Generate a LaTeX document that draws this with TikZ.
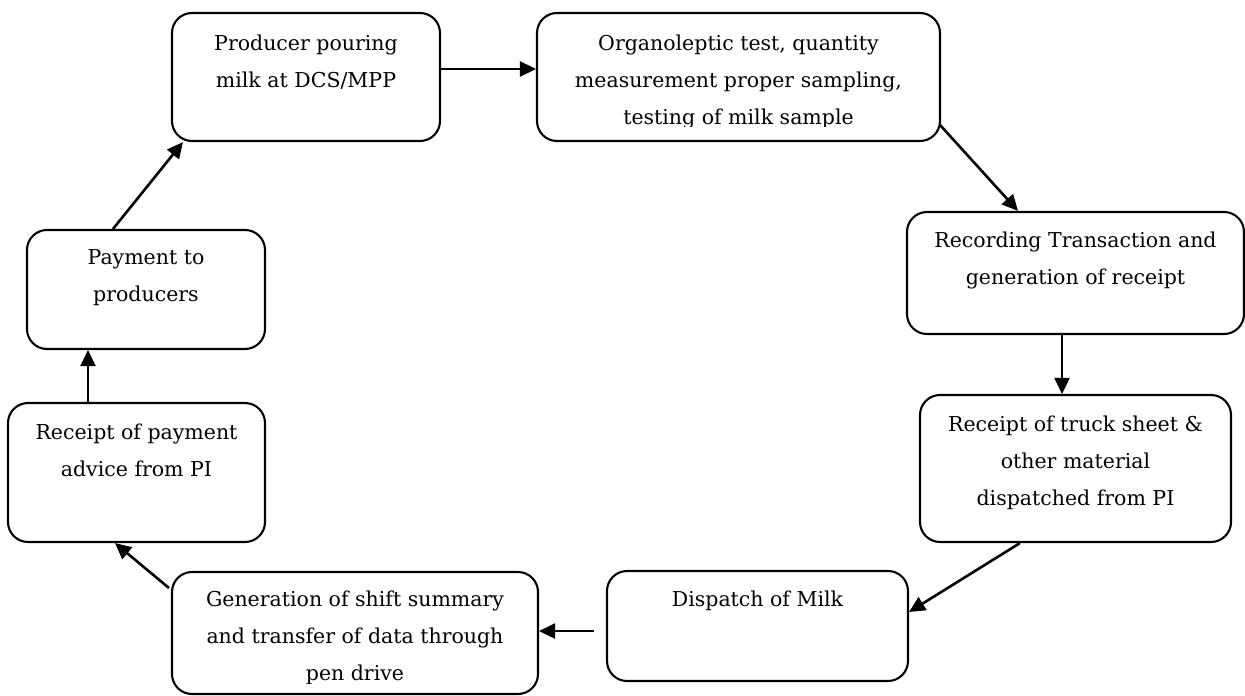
\documentclass[tikz,border=0pt]{standalone}
\usepackage{fontspec}
\setmainfont{DejaVu Serif}
\usetikzlibrary{calc,arrows.meta}
\begin{document}
\begin{tikzpicture}[x=1pt,y=-1pt,
  box/.style={draw,line width=2.1pt,rounded corners=20pt,inner sep=0pt,minimum width=#1},
  label/.style={anchor=north,inner sep=0pt,align=center,font=\fontsize{20.5}{37}\selectfont},
  flow/.style={line width=2.6pt,-{Triangle[length=16pt,width=15pt]}}]
\useasboundingbox (0,0) rectangle (1245,696);
% boxes
\node[box=268pt,minimum height=128pt] (b1) at (306,77) {};
\node[box=403pt,minimum height=128pt] (b2) at (738.5,77) {};
\node[box=337pt,minimum height=122pt] (b3) at (1075.5,273) {};
\node[box=311pt,minimum height=147pt] (b4) at (1075.5,468.5) {};
\node[box=301pt,minimum height=110pt] (b5) at (757.5,626) {};
\node[box=366pt,minimum height=122pt] (b6) at (355,633) {};
\node[box=257pt,minimum height=139pt] (b7) at (136.5,472.5) {};
\node[box=238pt,minimum height=119pt] (b8) at (146,289.5) {};
% texts
\node[label] (t1) at ($(b1.north)+(0,23)$) {Producer pouring\\milk at DCS/MPP};
\begin{scope}
\clip (0,0) rectangle (1245,126);
\node[label] (t2) at ($(b2.north)+(0,23)$) {Organoleptic test, quantity\\measurement proper sampling,\\testing of milk sample};
\end{scope}
\node[label] (t3) at ($(b3.north)+(0,21)$) {Recording Transaction and\\generation of receipt};
\node[label] (t4) at ($(b4.north)+(0,22)$) {Receipt of truck sheet \&\\other material\\dispatched from PI};
\node[label] (t5) at ($(b5.north)+(0,21)$) {Dispatch of Milk};
\begin{scope}
\clip (0,0) rectangle (1245,683);
\node[label] (t6) at ($(b6.north)+(0,20)$) {Generation of shift summary\\and transfer of data through\\pen drive};
\end{scope}
\node[label] (t7) at ($(b7.north)+(0,22)$) {Receipt of payment\\advice from PI};
\node[label] (t8) at ($(b8.north)+(0,20)$) {Payment to\\producers};
% connectors
\coordinate (s5) at ($(b5.west)+(-12,5)$);
\draw[flow] ($(b1.east)+(0,-8)$) -- ($(b2.west)+(0,-8)$);
\draw[flow] ($(b2.east)+(-1,48)$) -- ($(b3.north)+(-57.5,0)$);
\draw[flow] ($(b3.south)+(-13.5,0)$) -- ($(b4.north)+(-13.5,0)$);
\draw[flow] ($(b4.south)+(-55.5,0)$) -- ($(b5.east)+(0,-14)$);
\draw[flow] (s5) -- ($(b6.east)+(0,-2)$);
\draw[flow] ($(b6.west)+(-2,-45)$) -- ($(b7.south)+(-21.5,0)$);
\draw[flow] ($(b7.north)+(-48.5,0)$) -- ($(b8.south)+(-58,0)$);
\draw[flow] ($(b8.north)+(-33,0)$) -- ($(b1.south)+(-123,0)$);
\end{tikzpicture}
\end{document}
